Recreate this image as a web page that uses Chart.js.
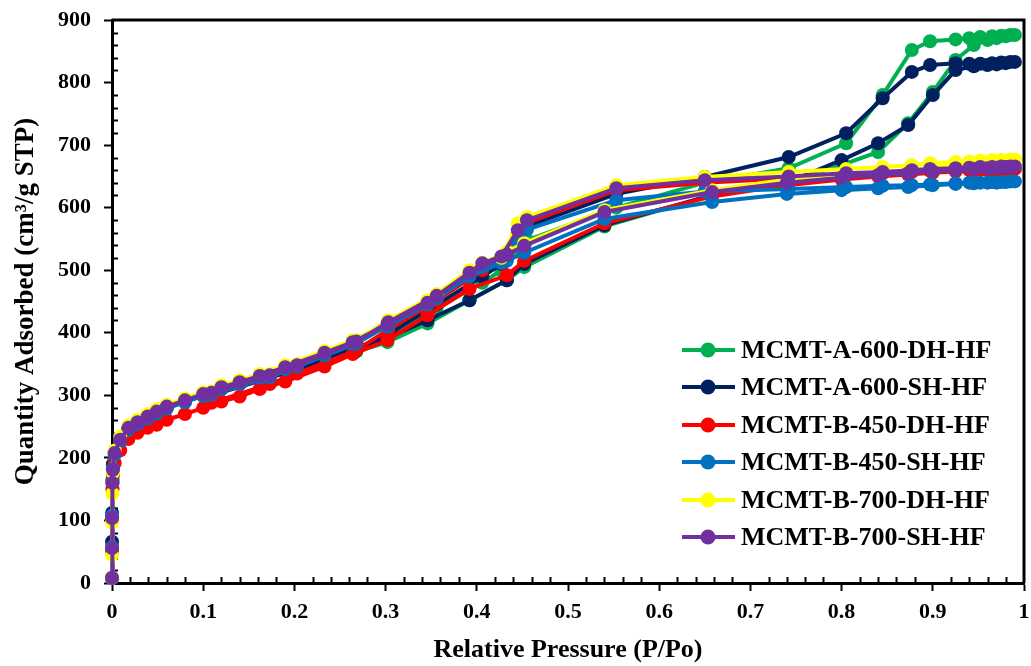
<!DOCTYPE html>
<html>
<head>
<meta charset="utf-8">
<script src="https://cdn.jsdelivr.net/npm/chart.js@4.4.1/dist/chart.umd.min.js"></script>
<style>
  html, body { margin: 0; padding: 0; background: #fff; }
  #wrap { width: 1031px; height: 666px; }
</style>
</head>
<body>
<div id="wrap"><canvas id="c" width="1031" height="666"></canvas></div>
<script>
// N2 isotherms: relative pressure grids shared by all samples
const adsPressure = [0.00001, 0.00005, 0.0001, 0.0005, 0.001, 0.003, 0.009, 0.018, 0.028, 0.039,
  0.049, 0.060, 0.080, 0.100, 0.120, 0.140, 0.162, 0.190, 0.233, 0.264,
  0.302, 0.346, 0.392, 0.433, 0.452, 0.540, 0.658, 0.740, 0.800, 0.840,
  0.873, 0.900, 0.925, 0.945, 0.960, 0.970, 0.980, 0.990];
const desPressure = [0.985, 0.975, 0.965, 0.952, 0.940, 0.925, 0.897, 0.877, 0.845, 0.805,
  0.742, 0.650, 0.553, 0.455, 0.445, 0.427, 0.406, 0.356, 0.303, 0.268,
  0.203, 0.173, 0.109];

// Quantity adsorbed (cm3/g STP), adsorption then desorption branch
const a600dhAds = [8, 55, 105, 160, 182, 206, 227, 246, 255, 264, 272, 280, 290, 300, 310, 318, 328, 342, 360, 368,
  385, 415, 452, 484, 505, 570, 620, 640, 668, 689, 735, 785, 836, 860, 868, 871, 874, 876];
const a600dhDes = [876, 875, 874, 873, 871, 869, 866, 852, 780, 703, 663, 640, 600, 548, 535, 500, 480, 440, 395, 370, 340, 330, 302];

const a600shAds = [8, 66, 112, 165, 190, 210, 228, 246, 255, 264, 272, 280, 290, 300, 311, 319, 329, 343, 362, 375,
  392, 420, 452, 484, 510, 572, 620, 640, 676, 703, 732, 780, 820, 826, 828, 829, 831, 833];
const a600shDes = [833, 832, 831, 830, 830, 831, 828, 817, 775, 719, 681, 649, 622, 570, 555, 510, 490, 445, 398, 372, 342, 328, 300];

const b450dhAds = [8, 50, 100, 150, 172, 192, 212, 230, 240, 248, 253, 261, 270, 280, 290, 298, 310, 322, 346, 366,
  388, 428, 470, 492, 515, 575, 618, 636, 645, 650, 653, 656, 658, 659, 660, 661, 661, 662];
const b450dhDes = [662, 662, 661, 661, 660, 660, 659, 657, 655, 652, 647, 640, 628, 576, 560, 512, 500, 452, 405, 372, 335, 318, 288];

const b450shAds = [8, 58, 108, 162, 183, 205, 226, 245, 254, 263, 271, 279, 289, 299, 310, 318, 328, 342, 364, 382,
  410, 445, 490, 515, 528, 582, 609, 622, 628, 631, 633, 636, 638, 639, 640, 640, 641, 642];
const b450shDes = [642, 641, 641, 640, 640, 639, 637, 636, 635, 633, 630, 626, 612, 565, 552, 512, 505, 455, 412, 383, 346, 329, 301];

const b700dhAds = [8, 45, 97, 143, 176, 212, 234, 252, 261, 270, 278, 285, 295, 305, 316, 324, 334, 348, 371, 388,
  416, 452, 500, 530, 543, 596, 628, 645, 652, 656, 660, 664, 667, 670, 672, 674, 675, 677];
const b700dhDes = [677, 676, 676, 675, 674, 673, 671, 668, 665, 662, 657, 649, 636, 585, 575, 520, 512, 462, 420, 388, 350, 334, 306];

const b700shAds = [8, 56, 104, 160, 181, 208, 229, 248, 257, 266, 274, 282, 292, 302, 313, 321, 331, 345, 368, 385,
  414, 448, 496, 525, 539, 593, 625, 640, 648, 652, 655, 658, 660, 662, 663, 664, 665, 666];
const b700shDes = [666, 666, 665, 665, 664, 663, 662, 660, 657, 655, 650, 644, 631, 580, 564, 522, 511, 459, 417, 386, 348, 332, 304];

const sampleNames = ['MCMT-A-600-DH-HF', 'MCMT-A-600-SH-HF', 'MCMT-B-450-DH-HF',
  'MCMT-B-450-SH-HF', 'MCMT-B-700-DH-HF', 'MCMT-B-700-SH-HF'];
const sampleColors = ['#00B050', '#002060', '#FF0000', '#0070C0', '#FFFF00', '#7030A0'];
const branches = [
  [a600dhAds, a600dhDes], [a600shAds, a600shDes], [b450dhAds, b450dhDes],
  [b450shAds, b450shDes], [b700dhAds, b700dhDes], [b700shAds, b700shDes]
];

const xTicks = [0, 0.1, 0.2, 0.3, 0.4, 0.5, 0.6, 0.7, 0.8, 0.9, 1];
const yTicks = [0, 100, 200, 300, 400, 500, 600, 700, 800, 900];

const serif = '"Liberation Serif", "Times New Roman", serif';

// plot rectangle on the 1031x666 canvas
const PLOT = { left: 112, top: 20, right: 1025, bottom: 583 };

function toPoints(ads, des) {
  const pts = adsPressure.map((p, i) => ({ x: p, y: ads[i] }));
  return pts.concat(desPressure.map((p, i) => ({ x: p, y: des[i] })));
}

const datasets = sampleNames.map((name, i) => ({
  label: name,
  data: toPoints(branches[i][0], branches[i][1]),
  showLine: true,
  borderColor: sampleColors[i],
  backgroundColor: sampleColors[i],
  pointBackgroundColor: sampleColors[i],
  pointBorderColor: sampleColors[i],
  pointBorderWidth: 0,
  pointRadius: 7,
  borderWidth: 4,
  tension: 0,
  clip: false,
  order: sampleNames.length - i   // later samples are painted over earlier ones
}));

// minor ticks pointing into the plot, the top/right frame, and the inset legend
const frameAndMinorTicks = {
  id: 'frameAndMinorTicks',
  beforeDatasetsDraw(chart) {
    const { ctx, chartArea: a, scales: { x, y } } = chart;
    ctx.save();
    ctx.strokeStyle = '#000';
    ctx.lineWidth = 2;
    ctx.beginPath();
    for (let k = 1; k < 50; k++) {
      if (k % 5 === 0) continue;
      const px = Math.round(x.getPixelForValue(k / 50)) + 0.5;
      ctx.moveTo(px, a.bottom);
      ctx.lineTo(px, a.bottom - 6);
    }
    for (let k = 1; k < 45; k++) {
      if (k % 5 === 0) continue;
      const py = Math.round(y.getPixelForValue(k * 20)) + 0.5;
      ctx.moveTo(a.left, py);
      ctx.lineTo(a.left + 6, py);
    }
    ctx.stroke();
    ctx.lineWidth = 3;
    ctx.beginPath();
    ctx.moveTo(a.left, a.top);
    ctx.lineTo(a.right, a.top);
    ctx.lineTo(a.right, a.bottom);
    ctx.stroke();
    ctx.restore();
  },
  afterDraw(chart) {
    const { ctx } = chart;
    const rowY = [350, 387, 425, 462, 500, 537];
    ctx.save();
    ctx.font = 'bold 26px ' + serif;
    ctx.textBaseline = 'middle';
    ctx.textAlign = 'left';
    chart.data.datasets.forEach((ds, i) => {
      const yy = rowY[i];
      ctx.strokeStyle = ds.borderColor;
      ctx.lineWidth = 4;
      ctx.beginPath();
      ctx.moveTo(682, yy);
      ctx.lineTo(735, yy);
      ctx.stroke();
      ctx.fillStyle = ds.borderColor;
      ctx.beginPath();
      ctx.arc(708, yy, 7.5, 0, Math.PI * 2);
      ctx.fill();
      ctx.fillStyle = '#000';
      ctx.fillText(ds.label, 741, yy + 1);
    });
    ctx.restore();
  }
};

new Chart(document.getElementById('c'), {
  type: 'scatter',
  data: { datasets },
  options: {
    responsive: false,
    animation: false,
    layout: { padding: { left: PLOT.left - PLOT.left, top: PLOT.top, right: 1031 - PLOT.right, bottom: 0 } },
    plugins: { legend: { display: false }, tooltip: { enabled: false } },
    scales: {
      x: {
        type: 'linear', min: 0, max: 1,
        afterBuildTicks(s) { s.ticks = xTicks.map(v => ({ value: v })); },
        afterFit(s) { s.height = 666 - PLOT.bottom; s.paddingLeft = 0; s.paddingRight = 0; },
        ticks: {
          color: '#000', padding: 8,
          font: { family: serif, size: 22, weight: 'bold' },
          callback: v => (v === 0 || v === 1) ? String(v) : v.toFixed(1)
        },
        grid: { drawOnChartArea: false, drawTicks: true, tickLength: 8, tickWidth: 2, tickColor: '#000' },
        border: { color: '#000', width: 3 },
        title: {
          display: true, text: 'Relative Pressure (P/Po)', color: '#000',
          font: { family: serif, size: 26, weight: 'bold' },
          padding: { top: 0, bottom: 0 }
        }
      },
      y: {
        type: 'linear', min: 0, max: 900,
        afterBuildTicks(s) { s.ticks = yTicks.map(v => ({ value: v })); },
        afterFit(s) { s.width = PLOT.left; s.paddingTop = 0; s.paddingBottom = 0; },
        ticks: {
          color: '#000', padding: 13,
          font: { family: serif, size: 22, weight: 'bold' }
        },
        grid: { drawOnChartArea: false, drawTicks: true, tickLength: 8, tickWidth: 2, tickColor: '#000' },
        border: { color: '#000', width: 3 },
        title: {
          display: true, text: 'Quantity Adsorbed (cm³/g STP)', color: '#000',
          font: { family: serif, size: 27, weight: 'bold' },
          padding: { top: 10, bottom: 0 }
        }
      }
    }
  },
  plugins: [frameAndMinorTicks]
});
</script>
</body>
</html>
